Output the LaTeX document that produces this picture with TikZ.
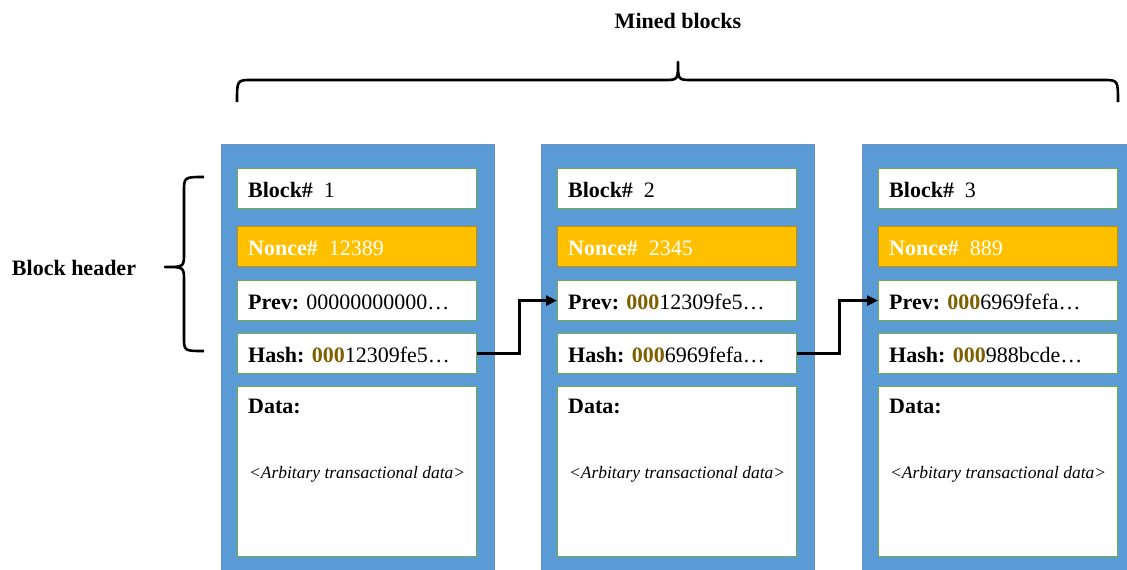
\documentclass[tikz,border=0pt]{standalone}
\usepackage{fontspec}
\setmainfont{Liberation Serif}
\usetikzlibrary{arrows.meta}

\definecolor{blockblue}{HTML}{5B9BD5}
\definecolor{blockedge}{HTML}{6E8FBF}
\definecolor{fieldedge}{HTML}{70AD47}
\definecolor{noncefill}{HTML}{FFC000}
\definecolor{nonceedge}{HTML}{C09000}
\definecolor{zerocol}{HTML}{7F6000}

% leading zeros of a hash, highlighted
\newcommand\lead{\textcolor{zerocol}{\textbf{000}}}

\tikzset{
  chainblock/.style={fill=blockblue, draw=blockedge, line width=0.8pt,
    minimum width=273pt, minimum height=440pt, anchor=north west, inner sep=0pt},
  field/.style={fill=white, draw=fieldedge, line width=1.2pt,
    minimum width=239pt, minimum height=40pt, anchor=north west, inner sep=0pt},
  noncefield/.style={field, fill=noncefill, draw=nonceedge},
  datafield/.style={field, minimum height=170pt},
  rowtext/.style={anchor=base west, inner sep=0pt, font=\fontsize{22}{26}\selectfont},
  datatext/.style={anchor=base, inner sep=0pt, font=\fontsize{17.5}{21}\selectfont\itshape},
  titletext/.style={inner sep=0pt, font=\fontsize{22}{26}\selectfont\bfseries},
  link/.style={line width=2.6pt, -{Triangle[length=11pt,width=10pt]}},
  bracecurve/.style={line width=2.6pt, line join=round}
}

% #1 index, #2 left x, #3 block number, #4 nonce, #5 prev hash, #6 hash
\newcommand\minedblock[6]{%
  \node[chainblock] (blk#1) at (#2,144) {};
  \node[field]      (fb#1) at (#2+16,168) {};
  \node[noncefield] (fn#1) at (#2+16,226) {};
  \node[field]      (fp#1) at (#2+16,280) {};
  \node[field]      (fh#1) at (#2+16,333) {};
  \node[datafield]  (fd#1) at (#2+16,386) {};
  \node[rowtext] (tb#1) at ([xshift=11pt,yshift=-9pt]fb#1.west) {\textbf{Block\#}\ \ #3};
  \node[rowtext, text=white] (tn#1) at ([xshift=11pt,yshift=-9pt]fn#1.west) {\textbf{Nonce\#}\ \ #4};
  \node[rowtext] (tp#1) at ([xshift=11pt,yshift=-8.5pt]fp#1.west) {\textbf{Prev:} #5};
  \node[rowtext] (th#1) at ([xshift=11pt,yshift=-8.5pt]fh#1.west) {\textbf{Hash:} #6};
  \node[rowtext] (tdl#1) at ([xshift=11pt,yshift=-27pt]fd#1.north west) {\textbf{Data:}};
  \node[datatext] (td#1) at ([yshift=-7pt]fd#1.center) {<Arbitary transactional data>};
}

\begin{document}
\begin{tikzpicture}[x=1pt, y=-1pt]
  \useasboundingbox (0,0) rectangle (1127,570);

  \minedblock{1}{221}{1}{12389}{00000000000\dots}{\lead12309fe5\dots}
  \minedblock{2}{541}{2}{2345}{\lead12309fe5\dots}{\lead6969fefa\dots}
  \minedblock{3}{862}{3}{889}{\lead6969fefa\dots}{\lead988bcde\dots}

  % hash of one block feeds the prev field of the next
  \draw[link] (fh1.east) -- ++(42pt,0) |- (fp2.west);
  \draw[link] (fh2.east) -- ++(42pt,0) |- (fp3.west);

  % brace over all blocks
  \node[titletext] (mined) at (678,21) {Mined blocks};
  \draw[bracecurve] (237,102) .. controls (237,80) .. (252,80) -- (664,80)
    .. controls (678,80) .. (678,62) .. controls (678,80) .. (692,80)
    -- (1103,80) .. controls (1118,80) .. (1118,102);

  % brace along the header fields
  \node[titletext] (header) at (74,268) {Block header};
  \draw[bracecurve] (204,177) .. controls (184,177) .. (184,192) -- (184,253)
    .. controls (184,267) .. (165,267) .. controls (184,267) .. (184,281)
    -- (184,337) .. controls (184,351) .. (204,351);
\end{tikzpicture}
\end{document}
